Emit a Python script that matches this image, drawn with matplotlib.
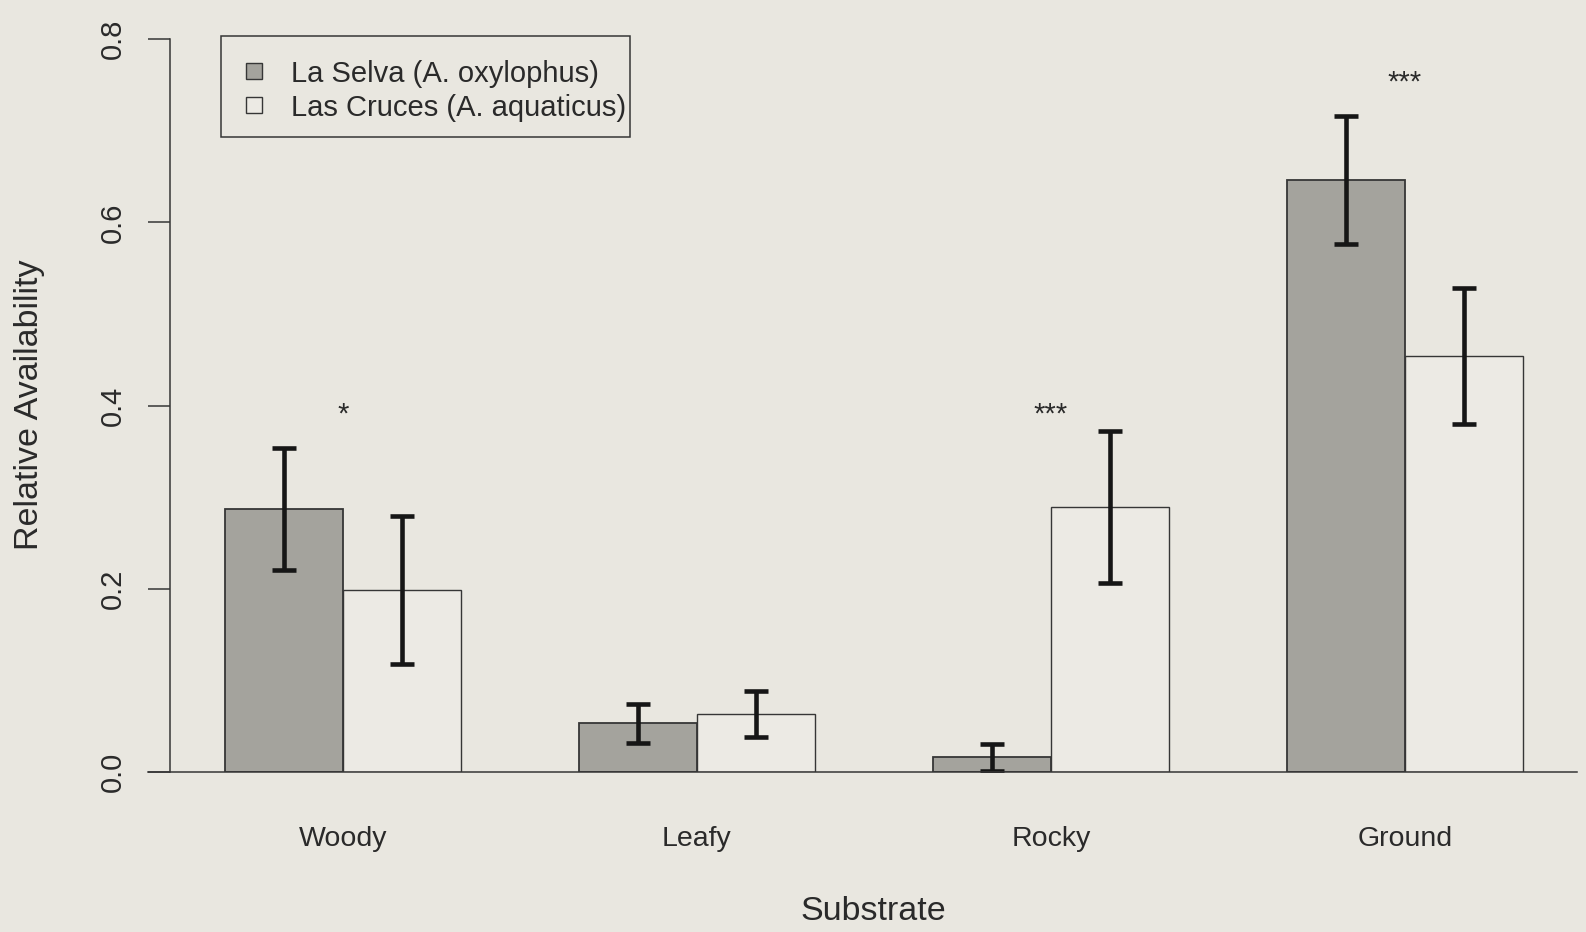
import numpy as np
import matplotlib
matplotlib.use("Agg")
import matplotlib.pyplot as plt
from matplotlib.patches import Rectangle
from matplotlib import transforms

# ---- data ----
categories = ["Woody", "Leafy", "Rocky", "Ground"]
series_names = ["La Selva (A. oxylophus)", "Las Cruces (A. aquaticus)"]
la_selva = [0.287, 0.053, 0.016, 0.646]
la_selva_se = [0.067, 0.021, 0.015, 0.070]
las_cruces = [0.199, 0.063, 0.289, 0.454]
las_cruces_se = [0.081, 0.025, 0.083, 0.074]
significance = ["*", "", "***", "***"]
sig_y = [0.40, 0.0, 0.40, 0.762]
yticks = [0.0, 0.2, 0.4, 0.6, 0.8]
ytick_labels = ["0.0", "0.2", "0.4", "0.6", "0.8"]

# ---- style ----
BG = "#e9e7e0"
GRAY = "#a4a39d"
WHITE = "#eceae4"
EDGE = "#363636"
TXT = "#2a2a2a"
ERR = "#161616"
plt.rcParams["font.family"] = ["Liberation Sans", "DejaVu Sans"]

W, H = 1586, 932
fig = plt.figure(figsize=(W / 100, H / 100), dpi=100, facecolor=BG)

ax_left_px, ax_right_px = 170, 1577
y0_px, ytop_px = 772, 20
px_per_unit = 916.0
ylim_top = (y0_px - ytop_px) / px_per_unit
ax = fig.add_axes([ax_left_px / W, (H - y0_px) / H,
                   (ax_right_px - ax_left_px) / W, (y0_px - ytop_px) / H])
ax.set_facecolor(BG)

n = len(categories)
group_centers = 3 * np.arange(n) + 2.0
bw = 1.0
x_gray = group_centers - 0.5
x_white = group_centers + 0.5

# x limits: bar left edge (x=1) at pixel 225, 118 px per bar
bar_px = 118.0
ax.set_xlim(1 - (225 - ax_left_px) / bar_px, 1 + (ax_right_px - 225) / bar_px)
ax.set_ylim(0, ylim_top)

ax.bar(x_gray, la_selva, width=bw, color=GRAY, edgecolor=EDGE, linewidth=1.3, zorder=2)
ax.bar(x_white, las_cruces, width=bw, color=WHITE, edgecolor=EDGE, linewidth=1.0, zorder=2)
err_kw = dict(fmt="none", ecolor=ERR, elinewidth=3.3, capsize=8.3, capthick=3.3, zorder=3)
ax.errorbar(x_gray, la_selva, yerr=la_selva_se, **err_kw)
ax.errorbar(x_white, las_cruces, yerr=las_cruces_se, **err_kw)

# significance stars (glyph centre at sig_y)
star_fs = 21
star_tr = transforms.offset_copy(ax.transData, fig=fig, y=-0.575 * star_fs, units="points")
for gc, s, yv in zip(group_centers, significance, sig_y):
    if s:
        ax.text(gc, yv, s, ha="center", va="baseline", fontsize=star_fs,
                color=TXT, transform=star_tr)

# axes styling (R-like)
for side in ["top", "right", "bottom"]:
    ax.spines[side].set_visible(False)
ax.spines["left"].set_bounds(0, 0.8)
ax.spines["left"].set_color(EDGE)
ax.spines["left"].set_linewidth(1.1)
ax.axhline(0, xmin=-(ax_left_px - 148) / (ax_right_px - ax_left_px), xmax=1,
           color=EDGE, linewidth=1.1, clip_on=False, zorder=4)

ax.set_yticks(yticks)
ax.set_yticklabels(ytick_labels, rotation=90, ha="center", va="center",
                   fontsize=21, color=TXT)
ax.tick_params(axis="y", length=15.8, width=1.1, color=EDGE, pad=25)

ax.set_xticks(group_centers)
ax.set_xticklabels(categories, fontsize=20.5, color=TXT)
for lab in ax.get_xticklabels():
    lab.set_va("center")
ax.tick_params(axis="x", length=0, pad=48)

ax.set_xlabel("Substrate", fontsize=24.5, color=TXT)
ax.xaxis.label.set_va("center")
ax.xaxis.set_label_coords(0.5, -(912 - y0_px) / (y0_px - ytop_px))
ax.set_ylabel("Relative Availability", fontsize=24.5, color=TXT)
ax.yaxis.label.set_va("center")
ax.yaxis.set_label_coords((30 - ax_left_px) / (ax_right_px - ax_left_px),
                          (y0_px - 405) / (y0_px - ytop_px))

# legend (manual, R-style box)
def fx(px):
    return px / W

def fy(py):
    return 1 - py / H

fig.patches.append(Rectangle((fx(221), fy(137)), fx(630) - fx(221), fy(36) - fy(137),
                             transform=fig.transFigure, facecolor="none",
                             edgecolor=EDGE, linewidth=1.1))
row_y = [71, 105]
fills = [GRAY, WHITE]
sq = 16
for name, fc, ry in zip(series_names, fills, row_y):
    fig.patches.append(Rectangle((fx(246), fy(ry + sq / 2)), fx(246 + sq) - fx(246),
                                 fy(ry - sq / 2) - fy(ry + sq / 2),
                                 transform=fig.transFigure, facecolor=fc,
                                 edgecolor=EDGE, linewidth=1.0))
    fig.text(fx(291), fy(ry + 3), name, ha="left", va="center", fontsize=21, color=TXT)

fig.savefig("out.png", dpi=100, facecolor=BG)
